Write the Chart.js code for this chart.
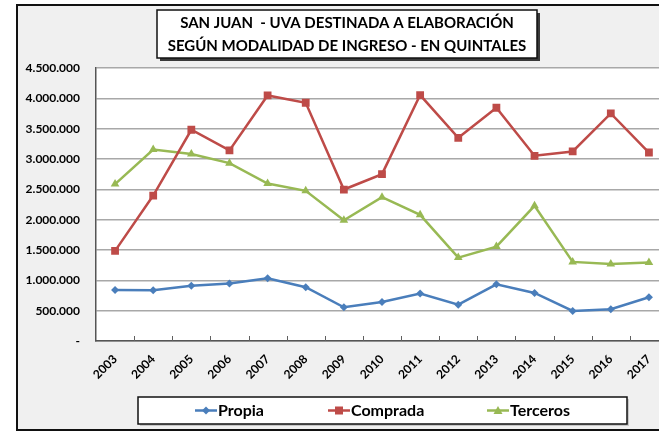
<!DOCTYPE html>
<html><head><meta charset="utf-8">
<script src="https://cdn.jsdelivr.net/npm/chart.js@4/dist/chart.umd.min.js"></script>
<style>html,body{margin:0;padding:0;background:#fff;overflow:hidden;width:659px;height:431px}canvas{display:block}</style>
</head><body><canvas id="c" width="680" height="431"></canvas>
<script>
const years = ['2003','2004','2005','2006','2007','2008','2009','2010','2011','2012','2013','2014','2015','2016','2017'];
const propia = [841000, 836000, 912000, 946000, 1034000, 886000, 556000, 643000, 781000, 599000, 935000, 792000, 495000, 523000, 721000];
const comprada = [1485000, 2398000, 3482000, 3141000, 4048000, 3927000, 2497000, 2750000, 4054000, 3350000, 3845000, 3053000, 3124000, 3751000, 3107000];
const terceros = [2586000, 3157000, 3081000, 2932000, 2596000, 2475000, 1991000, 2370000, 2079000, 1375000, 1556000, 2228000, 1304000, 1271000, 1293000];
const titleLines = ['SAN JUAN  - UVA DESTINADA A ELABORACIÓN', 'SEGÚN MODALIDAD DE INGRESO - EN QUINTALES'];
const seriesNames = ['Propia', 'Comprada', 'Terceros'];
const colors = ['#4a7ebb', '#be4b48', '#98b954'];
const styles = ['rectRot', 'rect', 'triangle'];
const FONT = 'Lato, "Open Sans", sans-serif';

function fmt(v) {
  if (v === 0) return '-';
  return String(v).replace(/\B(?=(\d{3})+(?!\d))/g, '.');
}

function marker(ctx, style, x, y, color) {
  ctx.save();
  ctx.fillStyle = color;
  ctx.beginPath();
  if (style === 'rect') {
    ctx.rect(x - 4, y - 4, 8, 8);
  } else if (style === 'rectRot') {
    ctx.moveTo(x, y - 4); ctx.lineTo(x + 4, y); ctx.lineTo(x, y + 4); ctx.lineTo(x - 4, y);
  } else {
    ctx.moveTo(x, y - 4.5); ctx.lineTo(x + 4.5, y + 3.5); ctx.lineTo(x - 4.5, y + 3.5);
  }
  ctx.closePath();
  ctx.fill();
  ctx.restore();
}

const decor = {
  id: 'decor',
  beforeDraw(chart) {
    const ctx = chart.ctx, a = chart.chartArea;
    ctx.save();
    ctx.fillStyle = '#ffffff';
    ctx.fillRect(0, 0, chart.width, chart.height);
    ctx.fillStyle = '#f0f0f0';
    ctx.fillRect(17, 5, chart.width - 17, 425);
    ctx.strokeStyle = '#111';
    ctx.lineWidth = 2;
    ctx.beginPath();
    ctx.moveTo(chart.width, 5); ctx.lineTo(17, 5); ctx.lineTo(17, 430); ctx.lineTo(chart.width, 430);
    ctx.stroke();
    ctx.fillStyle = '#ffffff';
    ctx.fillRect(a.left, a.top, a.right - a.left, a.bottom - a.top);
    ctx.restore();
  },
  afterDatasetsDraw(chart) {
    const ctx = chart.ctx, a = chart.chartArea, xs = chart.scales.x;
    ctx.save();
    ctx.strokeStyle = '#606060';
    ctx.lineWidth = 1;
    for (let i = 1; i < years.length; i++) {
      const x = Math.round((xs.getPixelForTick(i - 1) + xs.getPixelForTick(i)) / 2) + 0.5;
      ctx.beginPath(); ctx.moveTo(x, a.bottom); ctx.lineTo(x, a.bottom - 5); ctx.stroke();
    }
    ctx.restore();
  },
  afterDraw(chart) {
    const ctx = chart.ctx;
    ctx.save();
    // Title box
    ctx.fillStyle = '#3a3a3a';
    ctx.fillRect(160, 13, 380, 48);
    ctx.fillStyle = '#ffffff';
    ctx.fillRect(157, 10, 380, 48);
    ctx.strokeStyle = '#111';
    ctx.lineWidth = 1.5;
    ctx.strokeRect(157, 10, 380, 48);
    ctx.fillStyle = '#000';
    ctx.font = 'bold 15px ' + FONT;
    ctx.textAlign = 'center';
    ctx.textBaseline = 'middle';
    ctx.fillText(titleLines[0], 347, 23);
    ctx.fillText(titleLines[1], 347, 46);
    // Legend box
    ctx.fillStyle = '#c8c8c8';
    ctx.fillRect(140, 399, 489, 27);
    ctx.fillStyle = '#ffffff';
    ctx.fillRect(138, 397, 489, 27);
    ctx.strokeStyle = '#111';
    ctx.lineWidth = 1.5;
    ctx.strokeRect(138, 397, 489, 27);
    const starts = [195, 328, 487];
    ctx.font = 'bold 16px ' + FONT;
    ctx.textAlign = 'left';
    ctx.textBaseline = 'middle';
    for (let i = 0; i < 3; i++) {
      const x0 = starts[i], y = 410.5;
      ctx.strokeStyle = colors[i];
      ctx.lineWidth = 2.5;
      ctx.beginPath(); ctx.moveTo(x0, y); ctx.lineTo(x0 + 22, y); ctx.stroke();
      marker(ctx, styles[i], x0 + 11, y, colors[i]);
      ctx.fillStyle = '#000';
      ctx.fillText(seriesNames[i], x0 + 23, y + 0.5);
    }
    ctx.restore();
  }
};

const mk = (i, data) => ({
  label: seriesNames[i], data,
  borderColor: colors[i], backgroundColor: colors[i],
  borderWidth: 2.5, pointStyle: styles[i],
  pointRadius: i === 1 ? 5.5 : (i === 0 ? 4 : 5),
  pointBorderWidth: 0, tension: 0
});

new Chart(document.getElementById('c'), {
  type: 'line',
  data: { labels: years, datasets: [mk(0, propia), mk(1, comprada), mk(2, terceros)] },
  options: {
    responsive: false, animation: false, devicePixelRatio: 1,
    layout: { padding: { left: 0, top: 68, right: 12, bottom: 0 } },
    plugins: { legend: { display: false }, title: { display: false }, tooltip: { enabled: false } },
    scales: {
      x: {
        offset: true,
        grid: { display: false, drawTicks: false },
        border: { display: true, color: '#555', width: 1.5 },
        ticks: { color: '#000', font: { family: FONT, weight: 'bold', size: 12 }, minRotation: 45, maxRotation: 45, padding: 11, autoSkip: false },
        afterFit(s) { s.height = 90; }
      },
      y: {
        min: 0, max: 4500000,
        grid: { color: '#a8a8a8', lineWidth: 1.5, drawTicks: false },
        border: { display: true, color: '#555', width: 1.5 },
        ticks: { stepSize: 500000, color: '#000', font: { family: FONT, weight: 'bold', size: 12 }, padding: 16, callback: v => fmt(v) },
        afterFit(s) { s.width = 96; }
      }
    }
  },
  plugins: [decor]
});
</script></body></html>
